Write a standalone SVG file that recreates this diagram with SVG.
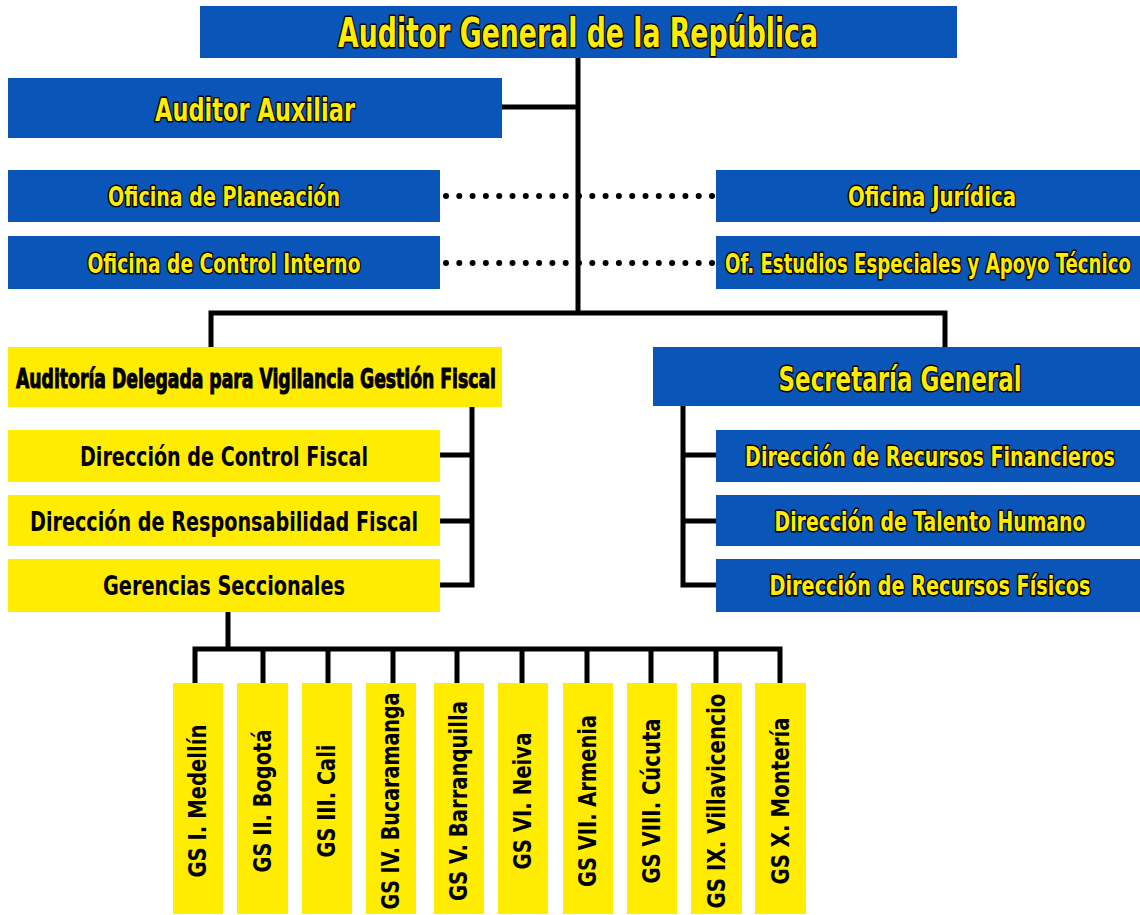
<svg xmlns="http://www.w3.org/2000/svg" width="1140" height="915" viewBox="0 0 1140 915">
<style>
.blue{fill:#0a56b8}
.yel{fill:#ffec00}
.t{font-family:"Liberation Sans Narrow","DejaVu Sans Condensed","Liberation Sans",sans-serif;font-weight:bold;text-anchor:middle}
.ty{fill:#ffec00;stroke:#000;stroke-width:3;paint-order:stroke;stroke-linejoin:round}
.tb{fill:#000}
.ln{stroke:#000;stroke-width:5;fill:none;stroke-linecap:square}
.dot{stroke:#000;stroke-width:6;stroke-linecap:round;stroke-dasharray:0 13.3;fill:none}
</style>
<rect width="1140" height="915" fill="#fff"/>
<g id="connectors">
<line class="dot" x1="446" y1="196" x2="712" y2="196"/>
<line class="dot" x1="446" y1="263" x2="712" y2="263"/>
<path class="ln" d="M578 58 V313 M502 107 H578 M211 313 H945 M211 313 V347 M945 313 V347"/>
<path class="ln" d="M472 407 V585 M440 455 H472 M440 521 H472 M440 585 H472"/>
<path class="ln" d="M683 407 V585 M683 455 H716 M683 521 H716 M683 585 H716"/>
<path class="ln" d="M228 612 V649 M195 649 H780 M195 649 V683 M263 649 V683 M328 649 V683 M393 649 V683 M457 649 V683 M522 649 V683 M587 649 V683 M651 649 V683 M716 649 V683 M780 649 V683"/>
</g>
<g id="n-auditor-general"><rect class="blue" x="200" y="6" width="757" height="52"/><text class="t ty" x="578" y="47" font-size="40" textLength="480" lengthAdjust="spacingAndGlyphs">Auditor General de la República</text></g>
<g id="n-auditor-auxiliar"><rect class="blue" x="8" y="78" width="494" height="60"/><text class="t ty" x="255" y="121" font-size="32" textLength="200" lengthAdjust="spacingAndGlyphs">Auditor Auxiliar</text></g>
<g id="n-planeacion"><rect class="blue" x="8" y="170" width="432" height="52"/><text class="t ty" x="224" y="206" font-size="26" textLength="232" lengthAdjust="spacingAndGlyphs">Oficina de Planeación</text></g>
<g id="n-control-interno"><rect class="blue" x="8" y="236" width="432" height="53"/><text class="t ty" x="224" y="273" font-size="26" textLength="273" lengthAdjust="spacingAndGlyphs">Oficina de Control Interno</text></g>
<g id="n-juridica"><rect class="blue" x="716" y="170" width="424" height="52"/><text class="t ty" x="932" y="206" font-size="26" textLength="168" lengthAdjust="spacingAndGlyphs">Oficina Jurídica</text></g>
<g id="n-estudios"><rect class="blue" x="716" y="236" width="424" height="53"/><text class="t ty" x="928" y="273" font-size="26" textLength="406" lengthAdjust="spacingAndGlyphs">Of. Estudios Especiales y Apoyo Técnico</text></g>
<g id="n-auditoria-delegada"><rect class="yel" x="8" y="347" width="494" height="60"/><text class="t tb" x="256" y="388" font-size="27" stroke="#000" stroke-width="1" textLength="480" lengthAdjust="spacingAndGlyphs">Auditoría Delegada para Vigilancia Gestión Fiscal</text></g>
<g id="n-secretaria"><rect class="blue" x="653" y="347" width="487" height="59"/><text class="t ty" x="900" y="391" font-size="33" textLength="243" lengthAdjust="spacingAndGlyphs">Secretaría General</text></g>
<g id="n-control-fiscal"><rect class="yel" x="8" y="430" width="432" height="52"/><text class="t tb" x="224" y="466" font-size="26" textLength="288" lengthAdjust="spacingAndGlyphs">Dirección de Control Fiscal</text></g>
<g id="n-responsabilidad"><rect class="yel" x="8" y="495" width="432" height="51"/><text class="t tb" x="224" y="531" font-size="26" textLength="388" lengthAdjust="spacingAndGlyphs">Dirección de Responsabilidad Fiscal</text></g>
<g id="n-gerencias"><rect class="yel" x="8" y="559" width="432" height="53"/><text class="t tb" x="224" y="595" font-size="26" textLength="242" lengthAdjust="spacingAndGlyphs">Gerencias Seccionales</text></g>
<g id="n-financieros"><rect class="blue" x="716" y="430" width="424" height="52"/><text class="t ty" x="930" y="466" font-size="26" textLength="370" lengthAdjust="spacingAndGlyphs">Dirección de Recursos Financieros</text></g>
<g id="n-talento"><rect class="blue" x="716" y="495" width="424" height="51"/><text class="t ty" x="930" y="531" font-size="26" textLength="311" lengthAdjust="spacingAndGlyphs">Dirección de Talento Humano</text></g>
<g id="n-fisicos"><rect class="blue" x="716" y="559" width="424" height="53"/><text class="t ty" x="930" y="595" font-size="26" textLength="321" lengthAdjust="spacingAndGlyphs">Dirección de Recursos Físicos</text></g>
<g id="n-gs1"><rect class="yel" x="173" y="683" width="50" height="231"/><text class="t tb" transform="translate(206,801) rotate(-90)" font-size="25" textLength="153" lengthAdjust="spacingAndGlyphs">GS I. Medellín</text></g>
<g id="n-gs2"><rect class="yel" x="237" y="683" width="51" height="231"/><text class="t tb" transform="translate(271,801) rotate(-90)" font-size="25" textLength="143" lengthAdjust="spacingAndGlyphs">GS II. Bogotá</text></g>
<g id="n-gs3"><rect class="yel" x="302" y="683" width="50" height="231"/><text class="t tb" transform="translate(335,801) rotate(-90)" font-size="25" textLength="113" lengthAdjust="spacingAndGlyphs">GS III. Cali</text></g>
<g id="n-gs4"><rect class="yel" x="366" y="683" width="50" height="231"/><text class="t tb" transform="translate(399,801) rotate(-90)" font-size="25" textLength="217" lengthAdjust="spacingAndGlyphs">GS IV. Bucaramanga</text></g>
<g id="n-gs5"><rect class="yel" x="434" y="683" width="50" height="231"/><text class="t tb" transform="translate(467,801) rotate(-90)" font-size="25" textLength="200" lengthAdjust="spacingAndGlyphs">GS V. Barranquilla</text></g>
<g id="n-gs6"><rect class="yel" x="498" y="683" width="50" height="231"/><text class="t tb" transform="translate(531,801) rotate(-90)" font-size="25" textLength="137" lengthAdjust="spacingAndGlyphs">GS VI. Neiva</text></g>
<g id="n-gs7"><rect class="yel" x="563" y="683" width="50" height="231"/><text class="t tb" transform="translate(596,801) rotate(-90)" font-size="25" textLength="172" lengthAdjust="spacingAndGlyphs">GS VII. Armenia</text></g>
<g id="n-gs8"><rect class="yel" x="627" y="683" width="50" height="231"/><text class="t tb" transform="translate(660,801) rotate(-90)" font-size="25" textLength="165" lengthAdjust="spacingAndGlyphs">GS VIII. Cúcuta</text></g>
<g id="n-gs9"><rect class="yel" x="691" y="683" width="51" height="231"/><text class="t tb" transform="translate(725,801) rotate(-90)" font-size="25" textLength="215" lengthAdjust="spacingAndGlyphs">GS IX. Villavicencio</text></g>
<g id="n-gs10"><rect class="yel" x="755" y="683" width="51" height="231"/><text class="t tb" transform="translate(789,801) rotate(-90)" font-size="25" textLength="167" lengthAdjust="spacingAndGlyphs">GS X. Montería</text></g>
</svg>
